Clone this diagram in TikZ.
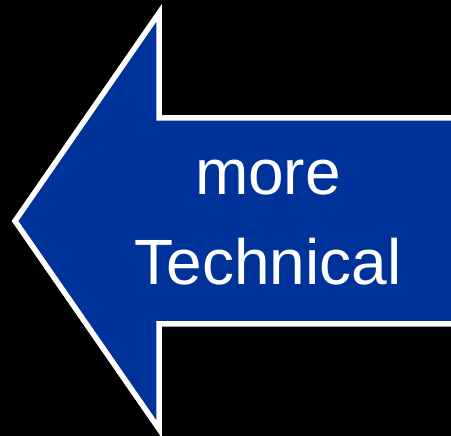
\documentclass[tikz,border=0pt]{standalone}
\usepackage{fontspec}
\setmainfont{Liberation Sans}
\definecolor{arrowblue}{RGB}{0,51,153}
\tikzset{
  bigarrow/.style={draw=white, line width=5.5pt, fill=arrowblue, line join=miter},
  arrowtext/.style={text=white, font=\fontsize{64}{64}\selectfont, inner sep=0pt, anchor=base}
}
\begin{document}
\begin{tikzpicture}[x=1pt, y=-1pt]
  % black page
  \fill[black] (0,0) rectangle (451,436);
  \useasboundingbox (0,0) rectangle (451,436);
  \clip (0,0) rectangle (451,436);

  % left pointing arrow, shaft runs off the right edge
  \draw[bigarrow] (470,118) -- (159,118) -- (159,13) -- (15,221)
    -- (159,429) -- (159,324) -- (470,324) -- cycle;

  % label
  \node[arrowtext] (more) at (268,195) {more};
  \node[arrowtext] (technical) at (268,285) {Technical};
\end{tikzpicture}
\end{document}
